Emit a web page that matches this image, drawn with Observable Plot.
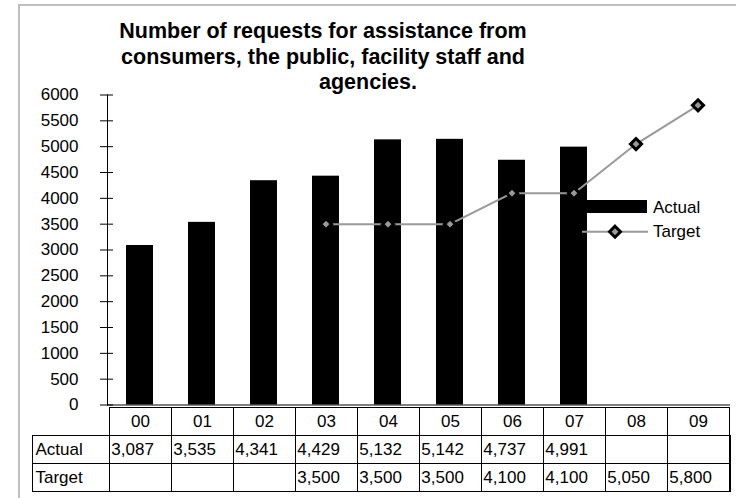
<!DOCTYPE html>
<html>
<head>
<meta charset="utf-8">
<script src="https://cdn.jsdelivr.net/npm/d3@7"></script>
<script src="https://cdn.jsdelivr.net/npm/@observablehq/plot@0.6"></script>
<style>
  html, body { margin: 0; padding: 0; background: #fff; }
  #wrap { position: relative; width: 736px; height: 498px; overflow: hidden; font-family: "Liberation Sans", Arial, sans-serif; color: #000; background: #fff; }
  #border { position: absolute; left: 18px; top: 4px; width: 760px; height: 540px; border-left: 2px solid #bfbfbf; border-top: 2px solid #bfbfbf; }
  #title { position: absolute; left: 73px; top: 19px; width: 500px; text-align: center; font-weight: bold; font-size: 21.5px; line-height: 25.5px; white-space: nowrap; }
  #title .l3 { position: relative; left: 45px; }
  .layer { position: absolute; left: 0; }
  #chart { top: 0; }
  #table { top: 405px; }
  #legend { position: absolute; left: 575px; top: 190px; }
  svg { overflow: visible; }
</style>
</head>
<body>
<div id="wrap">
  <div id="border"></div>
  <div id="title">Number of requests for assistance from<br>consumers, the public, facility staff and<br><span class="l3">agencies.</span></div>
  <div id="chart" class="layer"></div>
  <div id="table" class="layer"></div>
  <div id="legend"></div>
</div>
<script>
// ---- data ----
const categories = ["00", "01", "02", "03", "04", "05", "06", "07", "08", "09"];
const actual = [3087, 3535, 4341, 4429, 5132, 5142, 4737, 4991, null, null];
const target = [null, null, null, 3500, 3500, 3500, 4100, 4100, 5050, 5800];
const yTicks = [0, 500, 1000, 1500, 2000, 2500, 3000, 3500, 4000, 4500, 5000, 5500, 6000];
const seriesNames = ["Actual", "Target"];

const records = categories.map((year, i) => ({year, actual: actual[i], target: target[i]}));
const fmt = d3.format(",");
const font = "'Liberation Sans', Arial, sans-serif";

// ---- main chart ----
const chart = Plot.plot({
  width: 736,
  height: 498,
  marginTop: 94.5,
  marginBottom: 93.5,
  marginLeft: 107,
  marginRight: 6,
  style: {background: "none", fontFamily: font, fontSize: "17px", color: "#000"},
  x: {domain: categories, paddingInner: 0.57, paddingOuter: 0.285, axis: null},
  y: {domain: [0, 6000], axis: null},
  marks: [
    Plot.barY(records.filter(d => d.actual != null), {x: "year", y: "actual", fill: "#000"}),
    Plot.ruleY([0], {stroke: "#000"}),
    Plot.frame({anchor: "left", stroke: "#000"}),
    Plot.axisY({ticks: yTicks, tickSize: 13, dx: 6, tickPadding: 22, tickFormat: d => String(d), fontSize: 17, color: "#000", label: null}),
    Plot.line(records, {x: "year", y: "target", stroke: "#999", strokeWidth: 2}),
    Plot.dot(records.filter(d => d.target != null), {x: "year", y: "target", symbol: "diamond2", r: 5, fill: "#999", stroke: "#000", strokeWidth: 3})
  ]
});
document.getElementById("chart").append(chart);

// ---- data table under the category axis ----
const rowKeys = ["cat", ...seriesNames];
const cells = [];
for (const row of rowKeys) for (const year of categories) cells.push({row, year});
const colW = (730 - 107) / categories.length;

const table = Plot.plot({
  width: 736,
  height: 88,
  marginTop: 0.5,
  marginBottom: 1.5,
  marginLeft: 32,
  marginRight: 6,
  style: {background: "none", fontFamily: font, fontSize: "17px", color: "#000"},
  x: {domain: categories, range: [107, 730], padding: 0, axis: null},
  y: {domain: rowKeys, padding: 0, axis: null},
  marks: [
    Plot.cell(seriesNames, {y: d => d, fill: "none", stroke: "#000", shapeRendering: "crispEdges"}),
    Plot.cell(cells, {x: "year", y: "row", fill: "none", stroke: "#000", shapeRendering: "crispEdges"}),
    Plot.text(categories, {x: d => d, y: () => "cat", text: d => d, fontSize: 17, fill: "#000"}),
    Plot.text(seriesNames, {y: d => d, frameAnchor: "left", dx: 3, textAnchor: "start", text: d => d, fontSize: 17, fill: "#000"}),
    Plot.text(records.filter(d => d.actual != null), {x: "year", y: () => "Actual", text: d => fmt(d.actual), textAnchor: "start", dx: -colW / 2 + 2, fontSize: 17, fill: "#000"}),
    Plot.text(records.filter(d => d.target != null), {x: "year", y: () => "Target", text: d => fmt(d.target), textAnchor: "start", dx: -colW / 2 + 2, fontSize: 17, fill: "#000"})
  ]
});
document.getElementById("table").append(table);

// ---- legend (overlaps the plot area, as in the reference) ----
const ns = "http://www.w3.org/2000/svg";
const lg = document.createElementNS(ns, "svg");
lg.setAttribute("width", 161);
lg.setAttribute("height", 60);
lg.innerHTML = `
  <rect x="7" y="10" width="65" height="13" fill="#000"></rect>
  <text x="78" y="22.7" font-family="${font}" font-size="17" fill="#000">${seriesNames[0]}</text>
  <line x1="7" x2="73" y1="41.7" y2="41.7" stroke="#999" stroke-width="2"></line>
  <path d="M40,36.2L45.5,41.7L40,47.2L34.5,41.7Z" fill="#999" stroke="#000" stroke-width="3"></path>
  <text x="78" y="47.3" font-family="${font}" font-size="17" fill="#000">${seriesNames[1]}</text>`;
document.getElementById("legend").append(lg);
</script>
</body>
</html>
